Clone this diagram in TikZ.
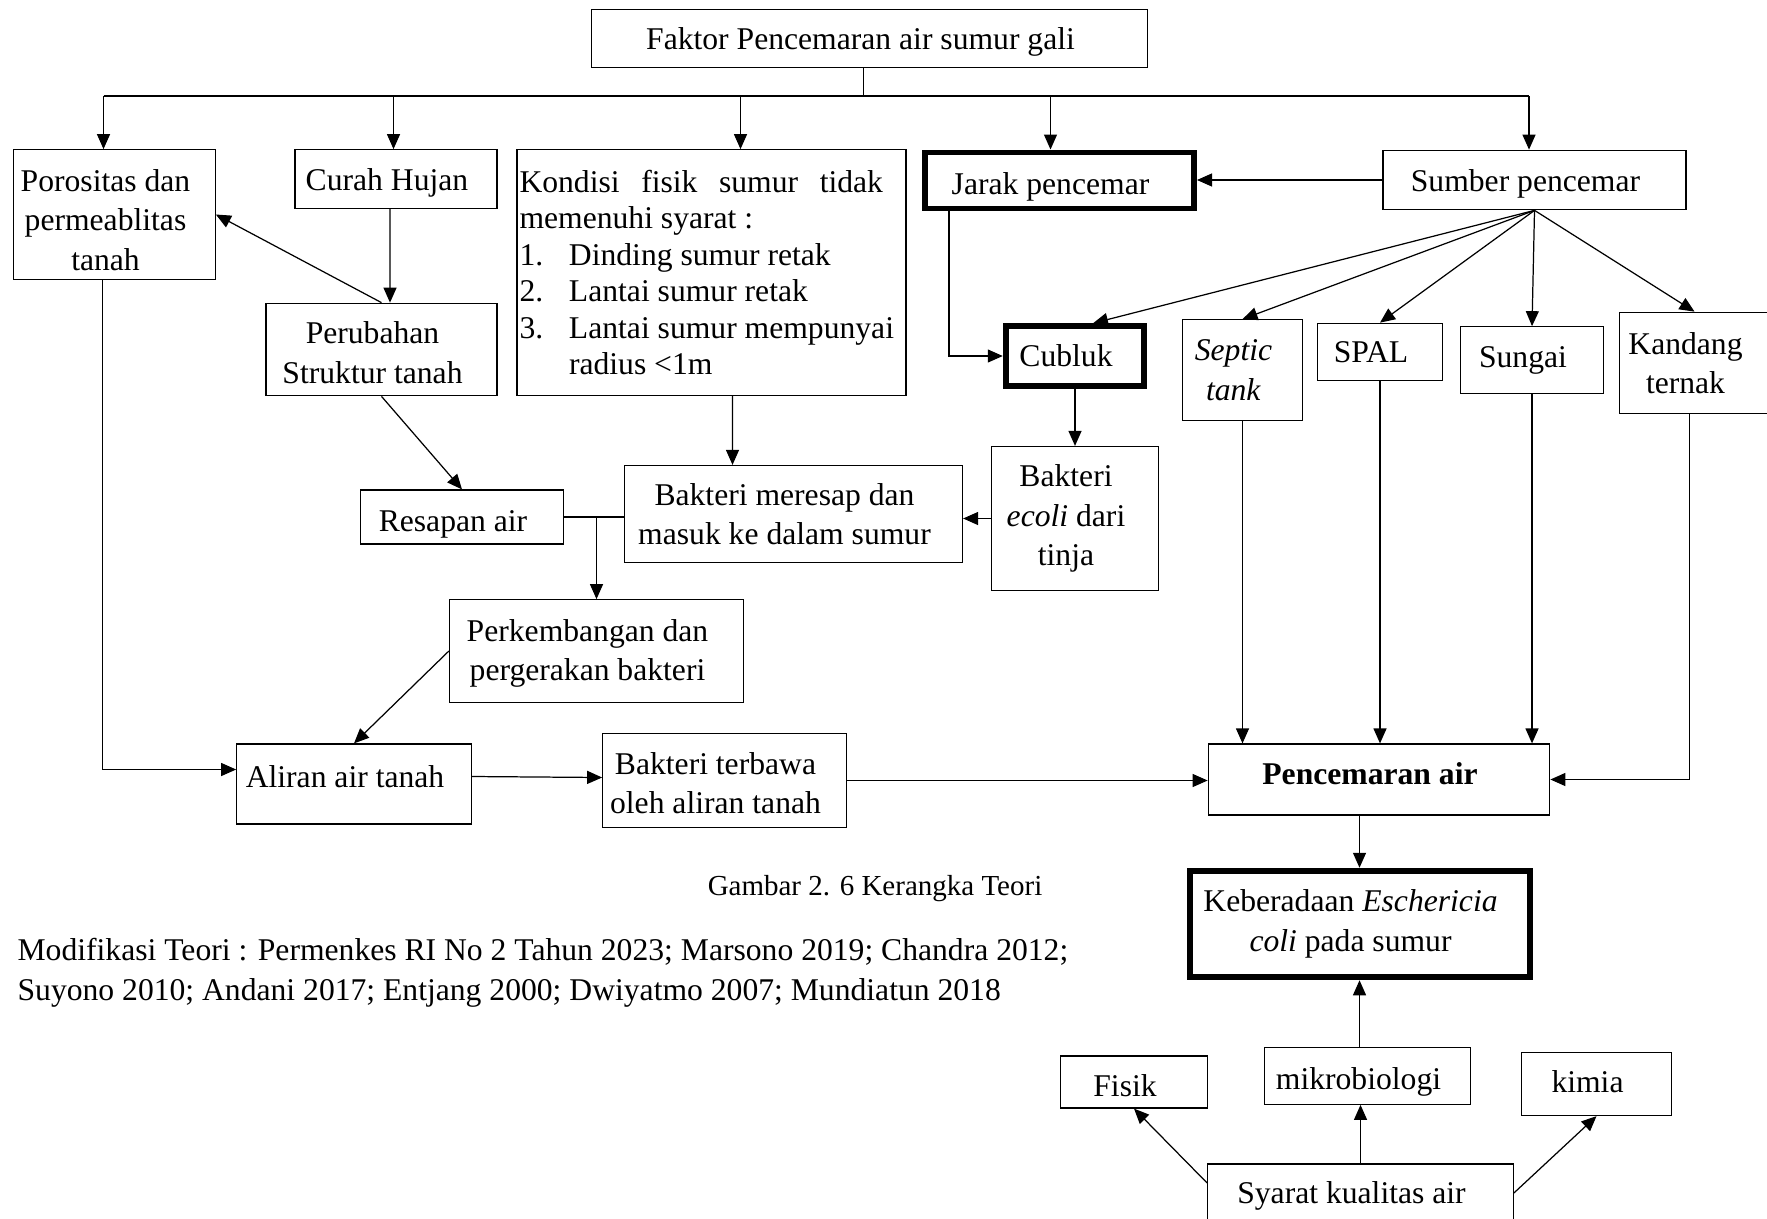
\documentclass[tikz,border=0pt]{standalone}
\usepackage{fontspec}
\setmainfont{Liberation Serif}
\usetikzlibrary{arrows.meta, positioning, calc}
\tikzset{
  every picture/.style={line width=0.7pt},
  box/.style={draw, align=center, inner sep=2pt, font=\fontsize{18}{22.5}\selectfont\hspace*{-0.36cm}},
  thickbox/.style={box, line width=3.4pt},
  arrow/.style={-{Triangle[length=0.3cm, width=0.26cm]}},
  note/.style={font=\fontsize{16.5}{20}\selectfont},
  refs/.style={font=\fontsize{18}{23}\selectfont, align=left, anchor=west, inner sep=0pt},
}

\begin{document}
\begin{tikzpicture}
  \useasboundingbox (0,0) rectangle (35.34,-24.36);
  % ---------- top row ----------
  \node[box, minimum width=11.11cm, minimum height=1.17cm, text height=16.1pt] (faktor) at (17.39,-0.77) {Faktor Pencemaran air sumur gali};
  \node[box, minimum width=4.03cm, minimum height=2.59cm] (poro) at (2.29,-4.29) {\rule{0pt}{18.7pt}Porositas dan\\permeablitas\\tanah};
  \node[box, minimum width=4.04cm, minimum height=1.17cm, text height=17.4pt] (curah) at (7.92,-3.58) {Curah Hujan};
  \node[draw, minimum width=7.78cm, minimum height=4.91cm, text width=7.68cm, inner xsep=0.05cm, align=justify,
        font=\fontsize{18}{20.7}\selectfont] (kondisi) at (14.23,-5.45)
    {\noindent Kondisi\hfill fisik\hfill sumur\hfill tidak\hspace*{0.41cm}\\
     memenuhi syarat :\\
     \makebox[0.99cm][l]{1.}Dinding sumur retak\\
     \makebox[0.99cm][l]{2.}Lantai sumur retak\\
     \makebox[0.99cm][l]{3.}Lantai sumur mempunyai\\
     \hspace*{0.99cm}radius <1m};
  \node[thickbox, minimum width=5.38cm, minimum height=1.12cm, text height=19.5pt] (jarak) at (21.19,-3.61) {Jarak pencemar};
  \node[box, minimum width=6.06cm, minimum height=1.19cm, text height=17.4pt] (sumber) at (30.69,-3.60) {Sumber pencemar};
  % ---------- bus from the title ----------
  \coordinate (bus) at (17.27,-1.92);
  \draw (bus |- faktor.south) -- (bus);
  \foreach \n/\x in {poro/2.07, curah/7.87, kondisi/14.81, jarak/21.01, sumber/30.58} {
    \coordinate (b\n) at (\x,-1.92);
    \draw[arrow] (b\n) -- (b\n |- \n.north);
  }
  \draw (bporo) -- (bsumber);
  % ---------- second row ----------
  \node[box, minimum width=4.62cm, minimum height=1.85cm] (perubahan) at (7.63,-6.99) {\rule{0pt}{16.1pt}Perubahan\\Struktur tanah};
  \node[thickbox, minimum width=2.77cm, minimum height=1.19cm] (cubluk) at (21.50,-7.12) {Cubluk};
  \node[box, minimum width=2.41cm, minimum height=2.01cm] (septic) at (24.85,-7.40) {\textit{Septic}\\\textit{tank}};
  \node[box, minimum width=2.50cm, minimum height=1.15cm] (spal) at (27.60,-7.04) {SPAL};
  \node[box, minimum width=2.86cm, minimum height=1.33cm] (sungai) at (30.64,-7.20) {Sungai};
  \node[box, minimum width=3.00cm, minimum height=2.03cm] (kandang) at (33.89,-7.26) {Kandang\\ternak};
  % ---------- middle ----------
  \node[box, minimum width=4.06cm, minimum height=1.08cm, text height=20pt] (resapan) at (9.24,-10.34) {Resapan air};
  \node[box, minimum width=6.76cm, minimum height=1.94cm] (meresap) at (15.87,-10.28) {Bakteri meresap dan\\masuk ke dalam sumur};
  \node[box, minimum width=3.34cm, minimum height=2.88cm] (ecoli) at (21.50,-10.37) {Bakteri\\\textit{ecoli} dari\\tinja};
  \node[box, minimum width=5.88cm, minimum height=2.05cm] (perkembangan) at (11.93,-13.02) {\rule{0pt}{15.5pt}Perkembangan dan\\pergerakan bakteri};
  \node[box, minimum width=4.69cm, minimum height=1.60cm, text depth=9pt] (aliran) at (7.08,-15.68) {Aliran air tanah};
  \node[box, minimum width=4.87cm, minimum height=1.87cm] (terbawa) at (14.49,-15.61) {\rule{0pt}{15.5pt}Bakteri terbawa\\oleh aliran tanah};
  \node[box, minimum width=6.83cm, minimum height=1.42cm, text depth=6.4pt] (pencemaran) at (27.58,-15.59) {\textbf{Pencemaran air}};
  % ---------- bottom ----------
  \node[thickbox, minimum width=6.80cm, minimum height=2.13cm] (keberadaan) at (27.19,-18.48) {Keberadaan \textit{Eschericia}\\\textit{coli} pada sumur};
  \node[box, minimum width=2.95cm, minimum height=1.04cm, text height=16.1pt] (fisik) at (22.68,-21.64) {Fisik};
  \node[box, minimum width=4.12cm, minimum height=1.13cm, text height=18.7pt] (mikro) at (27.35,-21.52) {mikrobiologi};
  \node[box, minimum width=3.00cm, minimum height=1.26cm, text depth=2.6pt] (kimia) at (31.93,-21.68) {kimia};
  \node[box, minimum width=6.11cm, minimum height=1.16cm, text height=16.1pt] (syarat) at (27.21,-23.86) {Syarat kualitas air};
  \node[note] (caption) at (17.50,-17.78) {Gambar 2. 6 Kerangka Teori};
  \node[refs] (modifikasi) at (0.34,-19.45) {Modifikasi Teori : Permenkes RI No 2 Tahun 2023; Marsono 2019; Chandra 2012;\\Suyono 2010; Andani 2017; Entjang 2000; Dwiyatmo 2007; Mundiatun 2018};
  % ---------- connectors ----------
  \draw[arrow] ([xshift=-0.12cm]curah.south) -- ([xshift=0.17cm]perubahan.north);
  \draw[arrow] (perubahan.north) -- (poro.east);
  \draw[arrow] (perubahan.south) -- (resapan.north);
  \draw[arrow] ([xshift=0.42cm]kondisi.south) -- ([xshift=-1.22cm]meresap.north);
  \draw (resapan.east) -- (resapan.east -| meresap.west);
  \draw[arrow] (resapan.east -| perkembangan.north) -- (perkembangan.north);
  \draw[arrow] (perkembangan.west) -- (aliran.north);
  \draw[arrow] ([xshift=-0.24cm]poro.south) |- ([yshift=0.29cm]aliran.west);
  \draw[arrow] ([yshift=0.15cm]aliran.east) -- ([yshift=0.06cm]terbawa.west);
  \draw[arrow] (terbawa.east) -- (terbawa.east -| pencemaran.west);
  \draw[arrow] (sumber.west) -- (sumber.west -| jarak.east);
  \draw[arrow] ([xshift=-2.21cm]jarak.south) |- (cubluk.west);
  \draw[arrow] (sumber.south) -- ([xshift=0.36cm]cubluk.north);
  \foreach \n in {septic, spal, sungai, kandang}
    \draw[arrow] (sumber.south) -- (\n.north);
  \draw[arrow] (cubluk.south) -- (ecoli.north);
  \draw[arrow] (ecoli.west) -- (ecoli.west -| meresap.east);
  \foreach \n in {septic, spal, sungai}
    \draw[arrow] (\n.south) -- (\n.south |- pencemaran.north);
  \draw[arrow] ([xshift=-0.1cm]kandang.south) |- (pencemaran.east);
  \draw[arrow] (keberadaan.north |- pencemaran.south) -- (keberadaan.north);
  \draw[arrow] (keberadaan.south |- mikro.north) -- (keberadaan.south);
  \draw[arrow] (syarat.north) -- (syarat.north |- mikro.south);
  \draw[arrow] ([yshift=0.2cm]syarat.west) -- (fisik.south);
  \draw[arrow] (syarat.east) -- (kimia.south);
\end{tikzpicture}
\end{document}
